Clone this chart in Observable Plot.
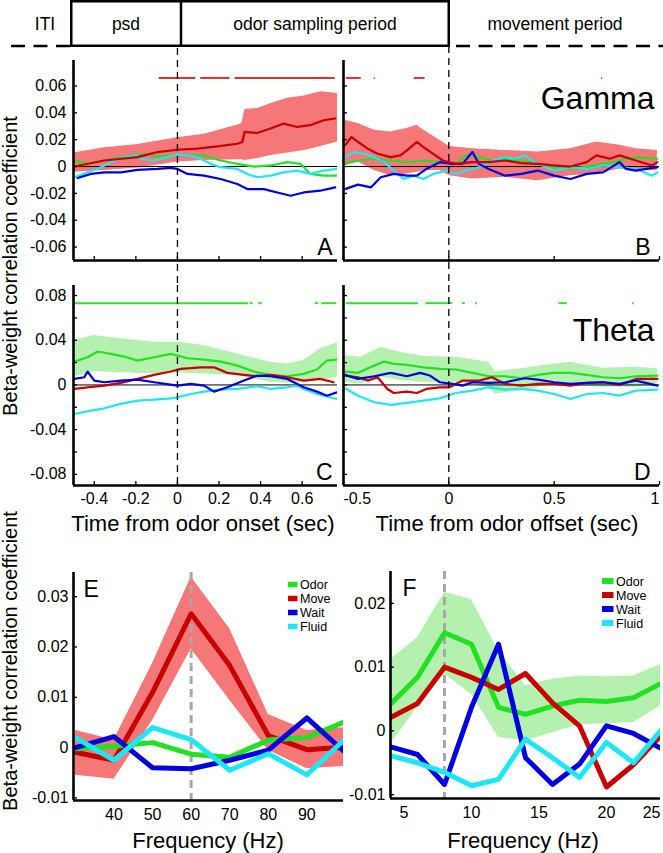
<!DOCTYPE html>
<html><head><meta charset="utf-8">
<script src="https://cdn.jsdelivr.net/npm/d3@7"></script>
<script src="https://cdn.jsdelivr.net/npm/@observablehq/plot@0.6"></script>
<style>
body{margin:0;background:#fff;}
#fig{position:relative;width:663px;height:853px;overflow:hidden;font-family:"Liberation Sans",Arial,Helvetica,sans-serif;}
</style></head><body><div id="fig"></div>
<script>
// ---------------- DATA ----------------
const seriesNames = ["Odor", "Move", "Wait", "Fluid"];
const headerLabels = ["ITI", "psd", "odor sampling period", "movement period"];
const axisTitles = ["Time from odor onset (sec)", "Time from odor offset (sec)", "Frequency (Hz)"];
const yTitle = "Beta-weight correlation coefficient";

// Gamma, aligned to odor onset (panel A): [time, value]
const gammaOnsetMove = [[-0.496,0],[-0.352,0.0045],[-0.192,0.007],[-0.096,0.0108],[0,0.0125],[0.096,0.0133],[0.192,0.015],[0.288,0.017],[0.312,0.0183],[0.323,0.0258],[0.384,0.025],[0.448,0.0283],[0.512,0.032],[0.576,0.0295],[0.639,0.0308],[0.703,0.0345],[0.759,0.0358]];
const gammaOnsetBand = [[-0.5,-0.0043,0.010],[-0.35,-0.003,0.014],[-0.19,-0.001,0.0165],[0,0.0033,0.0215],[0.13,0.0045,0.024],[0.29,0.005,0.031],[0.31,0.005,0.032],[0.325,0.0045,0.0425],[0.385,0.006,0.0433],[0.45,0.0083,0.047],[0.53,0.010,0.0508],[0.61,0.012,0.0525],[0.69,0.015,0.0558],[0.77,0.0183,0.0545]];
const gammaOnsetOdor = [[-0.496,0.0045],[-0.432,0.002],[-0.352,0.0045],[-0.272,0.007],[-0.192,0.0088],[-0.144,0.0095],[-0.096,0.0075],[-0.032,0.0083],[0,0.0088],[0.048,0.0083],[0.128,0.0083],[0.208,0.0045],[0.288,0.002],[0.368,0],[0.448,0.0008],[0.528,0.0033],[0.592,0.002],[0.639,-0.0055],[0.703,-0.0068],[0.767,-0.0068]];
const gammaOnsetWait = [[-0.48,-0.0085],[-0.416,-0.0055],[-0.352,-0.0043],[-0.272,-0.0043],[-0.192,-0.0025],[-0.096,-0.0018],[-0.032,-0.001],[0,-0.0018],[0.048,-0.0055],[0.128,-0.0068],[0.208,-0.0093],[0.288,-0.013],[0.336,-0.0168],[0.416,-0.0168],[0.48,-0.0193],[0.544,-0.0218],[0.608,-0.0193],[0.687,-0.018],[0.759,-0.0155]];
const gammaOnsetFluid = [[-0.496,-0.008],[-0.432,-0.0043],[-0.368,-0.0005],[-0.304,0.0045],[-0.256,0.007],[-0.192,0.0083],[-0.176,0.0058],[-0.112,0.0045],[-0.048,0.007],[0,0.009],[0.048,0.0083],[0.096,0.007],[0.128,0.0045],[0.16,0.002],[0.208,-0.0005],[0.288,-0.0018],[0.336,-0.0055],[0.384,-0.008],[0.448,-0.0068],[0.512,-0.0043],[0.576,-0.003],[0.639,-0.0055],[0.703,-0.003],[0.767,-0.0018]];
const gammaOnsetSig = [[-0.088,0.088],[0.112,0.253],[0.277,0.759]];

// Gamma, aligned to odor offset (panel B)
const gammaOffsetMove = [[-0.493,0.0158],[-0.462,0.022],[-0.431,0.0183],[-0.385,0.0133],[-0.338,0.0095],[-0.276,0.007],[-0.23,0.0083],[-0.199,0.012],[-0.152,0.0183],[-0.121,0.0145],[-0.074,0.0095],[-0.028,0.0045],[0.034,0.002],[0.112,0.0033],[0.189,0.0033],[0.267,0.0045],[0.344,0.0025],[0.422,0.002],[0.5,0.0008],[0.577,0],[0.655,0.0033],[0.701,0.0083],[0.764,0.0058],[0.81,0.0083],[0.888,0.0045],[0.965,0.0008],[0.989,0.0033]];
const gammaOffsetBand = [[-0.493,0.002,0.0345],[-0.431,0.0033,0.032],[-0.354,-0.003,0.027],[-0.276,-0.0068,0.0258],[-0.199,-0.0055,0.0283],[-0.152,-0.0043,0.0308],[-0.106,-0.003,0.0258],[-0.043,-0.003,0.0195],[0.003,-0.0068,0.015],[0.112,-0.0093,0.0133],[0.267,-0.008,0.012],[0.422,-0.0105,0.0108],[0.577,-0.0068,0.0133],[0.701,-0.0055,0.0183],[0.81,-0.0018,0.0158],[0.888,-0.003,0.0133],[0.99,-0.003,0.012]];
const gammaOffsetOdor = [[-0.493,0.002],[-0.431,0.0045],[-0.354,0.0058],[-0.276,0.0045],[-0.199,0.0033],[-0.121,0.0045],[-0.043,0.0033],[0.034,0.002],[0.081,0.0083],[0.143,0.007],[0.205,0.0045],[0.267,0.0058],[0.344,0.0045],[0.422,0.002],[0.5,-0.0005],[0.577,-0.0018],[0.655,0],[0.732,0.002],[0.81,0.0045],[0.888,0.007],[0.99,0.0058]];
const gammaOffsetWait = [[-0.493,-0.0168],[-0.431,-0.0135],[-0.369,-0.0155],[-0.323,-0.008],[-0.261,-0.0055],[-0.199,-0.0068],[-0.152,-0.0068],[-0.106,-0.0018],[-0.043,0.0033],[0.019,0.002],[0.065,0.002],[0.112,0.0108],[0.143,0.002],[0.189,-0.0018],[0.267,-0.0068],[0.344,-0.0055],[0.422,-0.003],[0.5,-0.0068],[0.577,-0.0093],[0.655,-0.0055],[0.732,-0.0043],[0.81,0.0033],[0.841,-0.0018],[0.888,-0.003],[0.99,-0.0005]];
const gammaOffsetFluid = [[-0.493,0.007],[-0.447,0.0108],[-0.4,0.0095],[-0.354,0.007],[-0.307,0.0033],[-0.261,-0.003],[-0.214,-0.0093],[-0.168,-0.0068],[-0.121,-0.0093],[-0.074,-0.0055],[-0.012,-0.003],[0.034,-0.0055],[0.081,-0.003],[0.143,-0.0005],[0.205,0.0045],[0.267,0.007],[0.313,0.0058],[0.36,0.0083],[0.422,0.002],[0.5,-0.003],[0.577,-0.0005],[0.655,-0.0018],[0.732,0.0008],[0.81,-0.0005],[0.888,-0.0018],[0.965,-0.0068],[0.99,-0.0043]];
const gammaOffsetSig = [[-0.486,-0.416],[-0.354,-0.349],[-0.164,-0.113],[0.725,0.73]];

// Theta, aligned to odor onset (panel C)
const thetaOnsetOdor = [[-0.496,0.0209],[-0.432,0.0248],[-0.384,0.0299],[-0.32,0.0278],[-0.256,0.0254],[-0.192,0.0218],[-0.112,0.0248],[-0.032,0.0278],[0,0.0263],[0.048,0.0239],[0.128,0.0227],[0.208,0.0209],[0.288,0.0173],[0.368,0.012],[0.448,0.009],[0.528,0.0078],[0.608,0.0099],[0.671,0.0138],[0.719,0.0218],[0.767,0.0227]];
const thetaOnsetBand = [[-0.5,0.0069,0.0398],[-0.4,0.012,0.0443],[-0.272,0.0108,0.0413],[-0.112,0.0099,0.0383],[0,0.0108,0.0383],[0.128,0.0099,0.0353],[0.288,0.0084,0.0278],[0.448,0.0024,0.0203],[0.528,0.0015,0.0188],[0.608,0.0024,0.0218],[0.687,0.0039,0.0323],[0.77,0.0069,0.0377]];
const thetaOnsetMove = [[-0.496,-0.0036],[-0.432,-0.0021],[-0.352,-0.0006],[-0.272,0.0018],[-0.192,0.0054],[-0.112,0.009],[-0.032,0.012],[0.016,0.0144],[0.064,0.015],[0.112,0.0158],[0.176,0.0158],[0.24,0.0108],[0.32,0.009],[0.384,0.0078],[0.448,0.009],[0.528,0.0069],[0.608,0.0039],[0.687,0.0054],[0.751,0.0024]];
const thetaOnsetWait = [[-0.496,0.0054],[-0.448,0.0069],[-0.432,0.012],[-0.4,0.0039],[-0.352,0.0024],[-0.272,0.0039],[-0.192,0.0048],[-0.112,0.0024],[0,-0.0006],[0.064,0.0009],[0.128,-0.0006],[0.176,-0.006],[0.24,-0.0021],[0.32,0.0039],[0.384,0.0084],[0.448,0.0078],[0.528,0.0054],[0.608,-0.0021],[0.671,-0.006],[0.719,-0.0096],[0.767,-0.0066]];
const thetaOnsetFluid = [[-0.496,-0.026],[-0.416,-0.023],[-0.352,-0.0209],[-0.272,-0.017],[-0.192,-0.0141],[-0.112,-0.0132],[-0.032,-0.012],[0,-0.0111],[0.064,-0.0081],[0.128,-0.006],[0.208,-0.0042],[0.288,-0.0036],[0.384,-0.0012],[0.448,-0.0036],[0.528,-0.0021],[0.576,-0.0006],[0.608,-0.0036],[0.671,-0.0081],[0.767,-0.0126]];
const thetaOnsetSig = [[-0.496,0.344],[0.352,0.364],[0.391,0.408],[0.663,0.679],[0.695,0.767]];

// Theta, aligned to odor offset (panel D)
const thetaOffsetOdor = [[-0.493,0.012],[-0.431,0.0108],[-0.354,0.0173],[-0.307,0.0209],[-0.261,0.0188],[-0.199,0.0179],[-0.121,0.0158],[-0.043,0.0144],[0.034,0.0138],[0.112,0.0108],[0.189,0.0078],[0.267,0.0078],[0.344,0.006],[0.422,0.009],[0.5,0.0108],[0.577,0.0108],[0.655,0.009],[0.732,0.0069],[0.81,0.006],[0.888,0.0078],[0.99,0.0084]];
const thetaOffsetBand = [[-0.493,0.0024,0.0263],[-0.416,0.0009,0.0248],[-0.323,0.0069,0.0338],[-0.23,0.0039,0.0293],[-0.121,0.0024,0.0257],[0.034,0.0024,0.0248],[0.189,-0.0021,0.0203],[0.22,-0.0081,0.012],[0.344,-0.0051,0.0144],[0.5,0.0009,0.0188],[0.577,-0.0006,0.0203],[0.732,-0.0021,0.015],[0.888,-0.0021,0.0158],[0.99,0.0009,0.0144]];
const thetaOffsetMove = [[-0.493,0.0084],[-0.431,0.0069],[-0.385,0.0039],[-0.338,0.0069],[-0.292,-0.0036],[-0.261,-0.0072],[-0.199,-0.006],[-0.152,-0.0072],[-0.106,-0.0036],[-0.043,-0.0021],[0.003,-0.0021],[0.065,0.0039],[0.143,0.0039],[0.205,0.0069],[0.267,0.0009],[0.344,-0.0006],[0.422,0.0009],[0.5,0.0009],[0.577,-0.0006],[0.655,0.0018],[0.732,0.0024],[0.81,0],[0.888,0.0054],[0.99,0.0054]];
const thetaOffsetWait = [[-0.493,0.009],[-0.431,0.0054],[-0.354,0.0078],[-0.276,0.0108],[-0.199,0.0078],[-0.137,0.0108],[-0.09,0.0084],[-0.043,0.0024],[0.019,0.0009],[0.065,-0.0006],[0.112,0.0024],[0.189,0.0018],[0.267,0.0024],[0.36,0.006],[0.422,0.0048],[0.5,0.0024],[0.577,0.0009],[0.655,0.0018],[0.732,0.0024],[0.81,0.0009],[0.888,0.0039],[0.99,-0.0006]];
const thetaOffsetFluid = [[-0.493,-0.003],[-0.431,-0.0096],[-0.354,-0.0155],[-0.276,-0.0179],[-0.199,-0.0161],[-0.121,-0.0141],[-0.043,-0.012],[0.034,-0.0072],[0.112,-0.0051],[0.189,-0.0021],[0.267,-0.0042],[0.344,-0.0036],[0.422,-0.0051],[0.5,-0.0081],[0.577,-0.0126],[0.655,-0.0081],[0.732,-0.0072],[0.81,-0.0096],[0.888,-0.0051],[0.99,-0.0042]];
const thetaOffsetSig = [[-0.486,-0.144],[-0.109,0.019],[0.065,0.078],[0.127,0.135],[0.523,0.562],[0.872,0.88]];

// Spectra (panel E: gamma range, panel F: theta range)
const freqE = [30, 40, 50, 60, 70, 80, 90, 100];
const gammaSpecOdor  = [-0.0002, 0.0003, 0.001, -0.0013, -0.0019, 0.0015, 0.002, 0.0052];
const gammaSpecMove  = [-0.0009, -0.0025, 0.011, 0.0266, 0.0163, 0.0024, -0.0004, 0.0001];
const gammaSpecMoveLo = [-0.0055, -0.0063, 0.0054, 0.0196, 0.0094, -0.0005, -0.0042, -0.0037];
const gammaSpecMoveHi = [0.0034, 0.0015, 0.0167, 0.0339, 0.0236, 0.0066, 0.0034, 0.004];
const gammaSpecWait  = [0, 0.0022, -0.004, -0.0042, -0.0025, -0.0005, 0.0059, -0.001];
const gammaSpecFluid = [0.002, -0.0025, 0.004, 0.0016, -0.0045, -0.0012, -0.0054, 0.0018];

const freqF = [4, 6, 8, 10, 12, 14, 16, 18, 20, 22, 24];
const thetaSpecOdor  = [0.0042, 0.0084, 0.0154, 0.0136, 0.0037, 0.0026, 0.0039, 0.0048, 0.0046, 0.0052, 0.0074];
const thetaSpecOdorLo = [-0.0021, 0.0037, 0.0089, 0.0057, -0.001, -0.0016, -0.0003, 0.001, 0.0011, 0.0013, 0.0039];
const thetaSpecOdorHi = [0.0112, 0.0146, 0.0217, 0.0206, 0.0125, 0.0071, 0.0081, 0.0086, 0.0085, 0.0086, 0.0104];
const thetaSpecMove  = [0.0021, 0.0043, 0.01, 0.0084, 0.0065, 0.009, 0.0044, 0.0008, -0.0088, -0.0053, -0.0008];
const thetaSpecWait  = [-0.0025, -0.0037, -0.0084, 0.0037, 0.0136, -0.0042, -0.0084, -0.0052, 0.0008, -0.0004, -0.0027];
const thetaSpecFluid = [-0.0039, -0.005, -0.0065, -0.0086, -0.0076, -0.0013, -0.0042, -0.0073, -0.0018, -0.005, 0];

// Ticks
const gammaYTicks = [-0.06, -0.04, -0.02, 0, 0.02, 0.04, 0.06];
const thetaYTicks = [-0.08, -0.06, -0.04, -0.02, 0, 0.02, 0.04, 0.06, 0.08];
const thetaYLabels = [-0.08, -0.04, 0, 0.04, 0.08];
const onsetXTicks = [-0.4, -0.2, 0, 0.2, 0.4, 0.6];
const offsetXTicks = [-0.5, 0, 0.5, 1];
const specEYTicks = [-0.01, 0, 0.01, 0.02, 0.03];
const specEXTicks = [40, 50, 60, 70, 80, 90];
const specFYTicks = [-0.01, 0, 0.01, 0.02];
const specFXTicks = [5, 10, 15, 20, 25];

// ---------------- STYLE ----------------
const FONT = '"Liberation Sans", Arial, Helvetica, sans-serif';
const colors = {Odor: "#22e022", Move: "#c80000", Wait: "#0000e0", Fluid: "#1ee6f5"};
const bandRed = "#f57777", bandGreen = "#b5f1ae";
const TICKFS = 16;
const fig = document.getElementById("fig");

function place(svg, left, top) {
  svg.style.position = "absolute";
  svg.style.left = left + "px";
  svg.style.top = top + "px";
  fig.appendChild(svg);
}
const fmt = d => String(d);

function tsPanel(o) {
  const marks = [];
  marks.push(Plot.areaY(o.band, {x: d => d[0], y1: d => d[1], y2: d => d[2], fill: o.bandFill, clip: true}));
  marks.push(Plot.ruleY([0], {stroke: "#000", strokeWidth: 1}));
  for (const [name, data] of o.series)
    marks.push(Plot.line(data, {x: d => d[0], y: d => d[1], stroke: colors[name], strokeWidth: 2.2, clip: true}));
  marks.push(Plot.ruleY(o.sig, {y: () => o.sigLevel, x1: d => d[0], x2: d => d[1], stroke: o.sigColor, strokeWidth: 2}));
  marks.push(Plot.ruleX([0], {stroke: "#000", strokeWidth: 1.3, strokeDasharray: "7,5", insetTop: o.dashTop, insetBottom: o.dashBottom}));
  marks.push(Plot.ruleX([o.xDomain[0]], {stroke: "#000", strokeWidth: 2.6}));
  marks.push(Plot.ruleY([o.yDomain[0]], {stroke: "#000", strokeWidth: 2.6}));
  marks.push(Plot.axisY(o.yTicks, {anchor: "left", tickSize: 4, dx: 4, tickFormat: () => "", label: null, strokeWidth: 1.3}));
  marks.push(Plot.axisX(o.xTicks, {anchor: "bottom", tickSize: 4, dy: -4, tickFormat: () => "", label: null, strokeWidth: 1.3}));
  if (o.yLabels) marks.push(Plot.axisY(o.yLabels, {anchor: "left", tickSize: 0, tickPadding: 7, tickFormat: fmt, label: null, fontSize: TICKFS}));
  if (o.xLabels) for (const [ticks, anchor] of o.xLabels)
    marks.push(Plot.axisX(ticks, {anchor: "bottom", tickSize: 0, tickPadding: 7, tickFormat: fmt, label: null, fontSize: TICKFS, textAnchor: anchor}));
  marks.push(Plot.text([o.letter], {frameAnchor: "bottom-right", dx: o.letterDx, dy: -6, fontSize: 23}));
  if (o.title) marks.push(Plot.text([o.title], {frameAnchor: "top-right", dx: -5, dy: o.titleDy, fontSize: 32}));
  const svg = Plot.plot({
    width: o.width, height: o.height,
    marginLeft: o.ml, marginRight: o.mr, marginTop: o.mt, marginBottom: o.mb,
    x: {domain: o.xDomain}, y: {domain: o.yDomain},
    style: {background: "none", overflow: "visible", fontFamily: FONT, fontSize: TICKFS + "px", color: "#000"},
    marks
  });
  place(svg, o.left, o.top);
}

const zip3 = (f, a, b) => f.map((x, i) => [x, a[i], b[i]]);
const zip2 = (f, a) => f.map((x, i) => [x, a[i]]);

function specPanel(o) {
  const marks = [];
  marks.push(Plot.areaY(o.band, {x: d => d[0], y1: d => d[1], y2: d => d[2], fill: o.bandFill, clip: true}));
  marks.push(Plot.ruleX([o.peak], {stroke: "#a8a8a8", strokeWidth: 3, strokeDasharray: "8,5"}));
  for (const [name, data] of o.series)
    marks.push(Plot.line(data, {x: d => d[0], y: d => d[1], stroke: colors[name], strokeWidth: 5, clip: true}));
  marks.push(Plot.ruleX([o.xDomain[0]], {stroke: "#000", strokeWidth: 2.6}));
  marks.push(Plot.ruleY([o.yDomain[0]], {stroke: "#000", strokeWidth: 2.6}));
  marks.push(Plot.axisY(o.yTicks, {anchor: "left", tickSize: 4, dx: 4, tickFormat: () => "", label: null, strokeWidth: 1.3}));
  marks.push(Plot.axisY(o.yTicks, {anchor: "left", tickSize: 0, tickPadding: 5, tickFormat: fmt, label: null, fontSize: TICKFS}));
  marks.push(Plot.axisX(o.xTicks, {anchor: "bottom", tickSize: 0, tickPadding: 8, tickFormat: fmt, label: null, fontSize: TICKFS}));
  if (o.xEndLabel != null)
    marks.push(Plot.text([o.xEndLabel], {x: () => o.xDomain[1], frameAnchor: "bottom", textAnchor: "end", lineAnchor: "top", dy: 8, fontSize: TICKFS, text: fmt}));
  marks.push(Plot.text([o.letter], {frameAnchor: "top-left", dx: o.letterDx, dy: 8, fontSize: 23}));
  const svg = Plot.plot({
    width: o.width, height: o.height,
    marginLeft: o.ml, marginRight: o.mr, marginTop: o.mt, marginBottom: o.mb,
    x: {domain: o.xDomain}, y: {domain: o.yDomain},
    style: {background: "none", overflow: "visible", fontFamily: FONT, fontSize: TICKFS + "px", color: "#000"},
    marks
  });
  place(svg, o.left, o.top);
}

// ---------------- OVERLAY (header, axis titles, legends) ----------------
const NS = "http://www.w3.org/2000/svg";
const ov = [];
ov.push(`<rect x="71.25" y="1.25" width="377.5" height="44.5" fill="none" stroke="#000" stroke-width="2.5"/>`);
ov.push(`<line x1="181" x2="181" y1="1" y2="46" stroke="#000" stroke-width="2.5"/>`);
ov.push(`<line x1="11" x2="71" y1="46" y2="46" stroke="#000" stroke-width="2.5" stroke-dasharray="14 8.5"/>`);
ov.push(`<line x1="456" x2="663" y1="46" y2="46" stroke="#000" stroke-width="2.5" stroke-dasharray="14 8.5"/>`);
const headerX = [45, 126, 315, 555];
headerLabels.forEach((t, i) => ov.push(`<text x="${headerX[i]}" y="30" text-anchor="middle" font-size="17.5">${t}</text>`));
ov.push(`<text transform="translate(17,266) rotate(-90)" text-anchor="middle" font-size="20">${yTitle}</text>`);
ov.push(`<text transform="translate(17,661) rotate(-90)" text-anchor="middle" font-size="20">${yTitle}</text>`);
ov.push(`<text x="203" y="531" text-anchor="middle" font-size="22">${axisTitles[0]}</text>`);
ov.push(`<text x="507" y="531" text-anchor="middle" font-size="22">${axisTitles[1]}</text>`);
ov.push(`<text x="208" y="848" text-anchor="middle" font-size="22">${axisTitles[2]}</text>`);
ov.push(`<text x="523" y="848" text-anchor="middle" font-size="22">${axisTitles[2]}</text>`);
function legend(sx, tx, y0, dyRow, w, h) {
  seriesNames.forEach((n, i) => {
    const y = y0 + i * dyRow;
    ov.push(`<rect x="${sx}" y="${y - h / 2}" width="${w}" height="${h}" fill="${colors[n]}"/>`);
    ov.push(`<text x="${tx}" y="${y}" dy="0.36em" font-size="12.5">${n}</text>`);
  });
}
legend(288, 300, 584.5, 14, 9.5, 5.5);
legend(602, 616, 581, 14, 11.5, 6);
const ovsvg = document.createElementNS(NS, "svg");
ovsvg.setAttribute("width", 663); ovsvg.setAttribute("height", 853);
ovsvg.setAttribute("font-family", FONT);
ovsvg.innerHTML = ov.join("");
place(ovsvg, 0, 0);

// ---------------- PANELS ----------------
tsPanel({left: 0, top: 48, width: 340, height: 237, ml: 73, mr: 3, mt: 12, mb: 25,
  xDomain: [-0.5, 0.77], yDomain: [-0.07, 0.079],
  band: gammaOnsetBand, bandFill: bandRed,
  series: [["Odor", gammaOnsetOdor], ["Fluid", gammaOnsetFluid], ["Wait", gammaOnsetWait], ["Move", gammaOnsetMove]],
  sig: gammaOnsetSig, sigLevel: 0.066, sigColor: "#e03030",
  yTicks: gammaYTicks, yLabels: gammaYTicks, xTicks: onsetXTicks, xLabels: null,
  dashTop: -12, dashBottom: -25, letter: "A", letterDx: -5});

tsPanel({left: 340, top: 48, width: 323, height: 237, ml: 3, mr: 4, mt: 12, mb: 25,
  xDomain: [-0.5, 1.0], yDomain: [-0.07, 0.079],
  band: gammaOffsetBand, bandFill: bandRed,
  series: [["Odor", gammaOffsetOdor], ["Fluid", gammaOffsetFluid], ["Wait", gammaOffsetWait], ["Move", gammaOffsetMove]],
  sig: gammaOffsetSig, sigLevel: 0.066, sigColor: "#e03030",
  yTicks: gammaYTicks, yLabels: null, xTicks: offsetXTicks, xLabels: null,
  dashTop: -14, dashBottom: -25, letter: "B", letterDx: -9, title: "Gamma", titleDy: 26});

tsPanel({left: 0, top: 285, width: 340, height: 260, ml: 73, mr: 3, mt: 0, mb: 60,
  xDomain: [-0.5, 0.77], yDomain: [-0.09, 0.089],
  band: thetaOnsetBand, bandFill: bandGreen,
  series: [["Odor", thetaOnsetOdor], ["Move", thetaOnsetMove], ["Fluid", thetaOnsetFluid], ["Wait", thetaOnsetWait]],
  sig: thetaOnsetSig, sigLevel: 0.0732, sigColor: "#33e033",
  yTicks: thetaYTicks, yLabels: thetaYLabels, xTicks: onsetXTicks, xLabels: [[onsetXTicks, "middle"]],
  dashTop: 0, dashBottom: 0, letter: "C", letterDx: -5});

tsPanel({left: 340, top: 285, width: 323, height: 260, ml: 3, mr: 4, mt: 0, mb: 60,
  xDomain: [-0.5, 1.0], yDomain: [-0.09, 0.089],
  band: thetaOffsetBand, bandFill: bandGreen,
  series: [["Odor", thetaOffsetOdor], ["Move", thetaOffsetMove], ["Fluid", thetaOffsetFluid], ["Wait", thetaOffsetWait]],
  sig: thetaOffsetSig, sigLevel: 0.0732, sigColor: "#33e033",
  yTicks: thetaYTicks, yLabels: null, xTicks: offsetXTicks,
  xLabels: [[offsetXTicks.slice(0, 1), "start"], [offsetXTicks.slice(1, 3), "middle"], [offsetXTicks.slice(3), "end"]],
  dashTop: 0, dashBottom: 0, letter: "D", letterDx: -9, title: "Theta", titleDy: 33});

specPanel({left: 0, top: 545, width: 345, height: 308, ml: 73, mr: 2, mt: 27, mb: 53,
  xDomain: [29.5, 99.5], yDomain: [-0.0105, 0.0348], peak: 60,
  band: zip3(freqE, gammaSpecMoveLo, gammaSpecMoveHi), bandFill: bandRed,
  series: [["Move", zip2(freqE, gammaSpecMove)], ["Odor", zip2(freqE, gammaSpecOdor)], ["Wait", zip2(freqE, gammaSpecWait)], ["Fluid", zip2(freqE, gammaSpecFluid)]],
  yTicks: specEYTicks, xTicks: specEXTicks, xEndLabel: null, letter: "E", letterDx: 10});

specPanel({left: 345, top: 545, width: 318, height: 308, ml: 45, mr: 3, mt: 26, mb: 55,
  xDomain: [4, 24], yDomain: [-0.0106, 0.025], peak: 8,
  band: zip3(freqF, thetaSpecOdorLo, thetaSpecOdorHi), bandFill: bandGreen,
  series: [["Odor", zip2(freqF, thetaSpecOdor)], ["Move", zip2(freqF, thetaSpecMove)], ["Wait", zip2(freqF, thetaSpecWait)], ["Fluid", zip2(freqF, thetaSpecFluid)]],
  yTicks: specFYTicks, xTicks: specFXTicks.slice(0, 4), xEndLabel: specFXTicks[4], letter: "F", letterDx: 12});
</script></body></html>
